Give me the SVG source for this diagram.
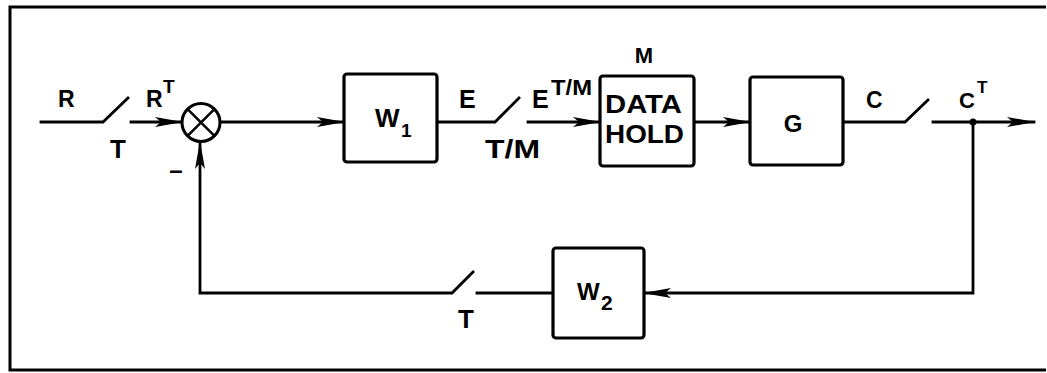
<svg xmlns="http://www.w3.org/2000/svg" width="1047" height="373" viewBox="0 0 1047 373">
<style>
.ln{fill:none;stroke:#000;stroke-width:2.8;stroke-linecap:square}
.bx{fill:#fff;stroke:#000;stroke-width:3.2}
.t{font-family:"Liberation Sans",Arial,sans-serif;font-weight:bold;fill:#000}
</style>
<defs>
<marker id="arr" viewBox="0 0 28 12" refX="27" refY="6" markerWidth="28" markerHeight="12" orient="auto" markerUnits="userSpaceOnUse">
<path d="M0,1 L28,6 L0,11 L6,6 z" fill="#000"/>
</marker>
</defs>
<rect x="1" y="1" width="1045" height="371" fill="#fff" stroke="none"/>
<path d="M1046,7 H10 V370 H1046" fill="none" stroke="#000" stroke-width="3"/>

<g id="connectors">
<path class="ln" d="M41,122 H103 L128,98"/>
<path class="ln" d="M131,122 H182" marker-end="url(#arr)"/>
<path class="ln" d="M220,122 H344" marker-end="url(#arr)"/>
<path class="ln" d="M437,122 H495 L519,98"/>
<path class="ln" d="M528,122 H600" marker-end="url(#arr)"/>
<path class="ln" d="M694,122 H750" marker-end="url(#arr)"/>
<path class="ln" d="M843,122 H905 L928,100"/>
<path class="ln" d="M933,122 H1034" marker-end="url(#arr)"/>
<circle cx="973" cy="122" r="3.5" fill="#000"/>
<path class="ln" d="M973,122 V293 H644" marker-end="url(#arr)"/>
<path class="ln" d="M553,293 H477"/>
<path class="ln" d="M473,272 L452,293 H200 V142" marker-end="url(#arr)"/>
</g>

<g id="summer">
<circle cx="201" cy="122.5" r="19" fill="#fff" stroke="#000" stroke-width="3"/>
<path d="M187.6,109.1 L214.4,135.9 M214.4,109.1 L187.6,135.9" stroke="#000" stroke-width="2.5"/>
</g>

<g id="W1">
<rect class="bx" x="344" y="74" width="93" height="88" rx="3"/>
<text class="t" x="375" y="127" font-size="26">W</text>
<text class="t" x="401" y="137" font-size="19">1</text>
</g>

<g id="datahold">
<rect class="bx" x="600" y="76" width="94" height="90" rx="3"/>
<text class="t" x="605" y="113" font-size="25" textLength="77" lengthAdjust="spacingAndGlyphs">DATA</text>
<text class="t" x="605" y="143" font-size="25" textLength="79" lengthAdjust="spacingAndGlyphs">HOLD</text>
</g>

<g id="G">
<rect class="bx" x="750" y="77" width="93" height="88" rx="3"/>
<text class="t" x="793" y="132" font-size="24" text-anchor="middle">G</text>
</g>

<g id="W2">
<rect class="bx" x="553" y="248" width="91" height="90" rx="3"/>
<text class="t" x="577" y="300" font-size="24">W</text>
<text class="t" x="601" y="310" font-size="21">2</text>
</g>

<g id="labels">
<text class="t" x="58" y="107" font-size="23">R</text>
<text class="t" x="118" y="158" font-size="26" text-anchor="middle">T</text>
<text class="t" x="146" y="107" font-size="23">R</text>
<text class="t" x="163" y="93" font-size="19">T</text>
<text class="t" x="176" y="178" font-size="24" text-anchor="middle">–</text>
<text class="t" x="459" y="108" font-size="25">E</text>
<text class="t" x="485" y="158" font-size="26" textLength="55" lengthAdjust="spacingAndGlyphs">T/M</text>
<text class="t" x="532" y="108" font-size="25">E</text>
<text class="t" x="551" y="95" font-size="22" textLength="41" lengthAdjust="spacingAndGlyphs">T/M</text>
<text class="t" x="644" y="63" font-size="22" text-anchor="middle">M</text>
<text class="t" x="866" y="108" font-size="23">C</text>
<text class="t" x="959" y="108" font-size="22">C</text>
<text class="t" x="977" y="93" font-size="17">T</text>
<text class="t" x="466" y="328" font-size="26" text-anchor="middle">T</text>
</g>
</svg>
